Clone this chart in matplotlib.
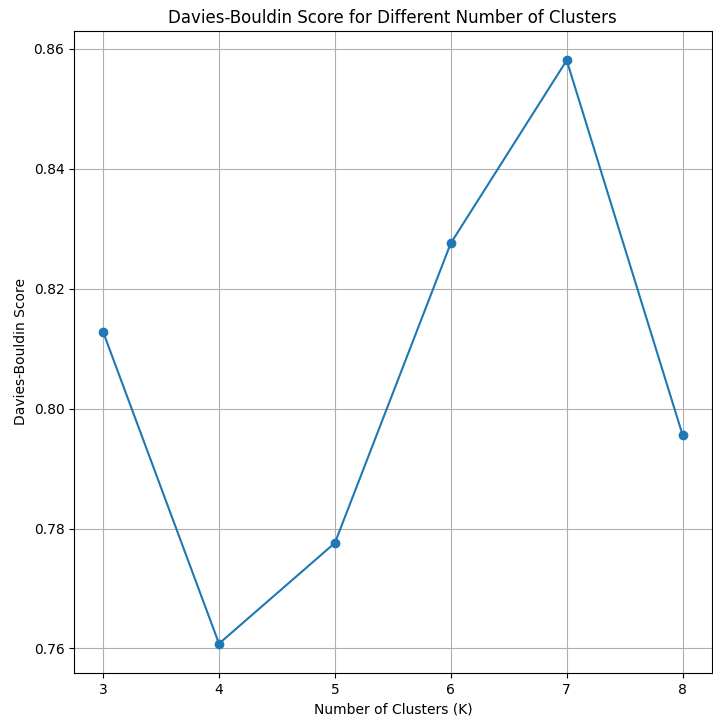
import matplotlib
matplotlib.use('Agg')
import matplotlib.pyplot as plt

# cluster counts and their Davies-Bouldin scores
k_values = [3, 4, 5, 6, 7, 8]
db_scores = [0.8128, 0.7608, 0.7776, 0.8276, 0.8581, 0.7956]

fig = plt.figure(figsize=(7.13, 7.25), dpi=100)
ax = fig.add_axes([0.104, 0.072, 0.894, 0.885])
ax.plot(k_values, db_scores, marker='o')
ax.set_title('Davies-Bouldin Score for Different Number of Clusters')
ax.set_xlabel('Number of Clusters (K)')
ax.set_ylabel('Davies-Bouldin Score')
ax.set_xticks(k_values)
ax.set_yticks([0.76, 0.78, 0.80, 0.82, 0.84, 0.86])
ax.grid(True)
fig.savefig('out.png', dpi=100)
